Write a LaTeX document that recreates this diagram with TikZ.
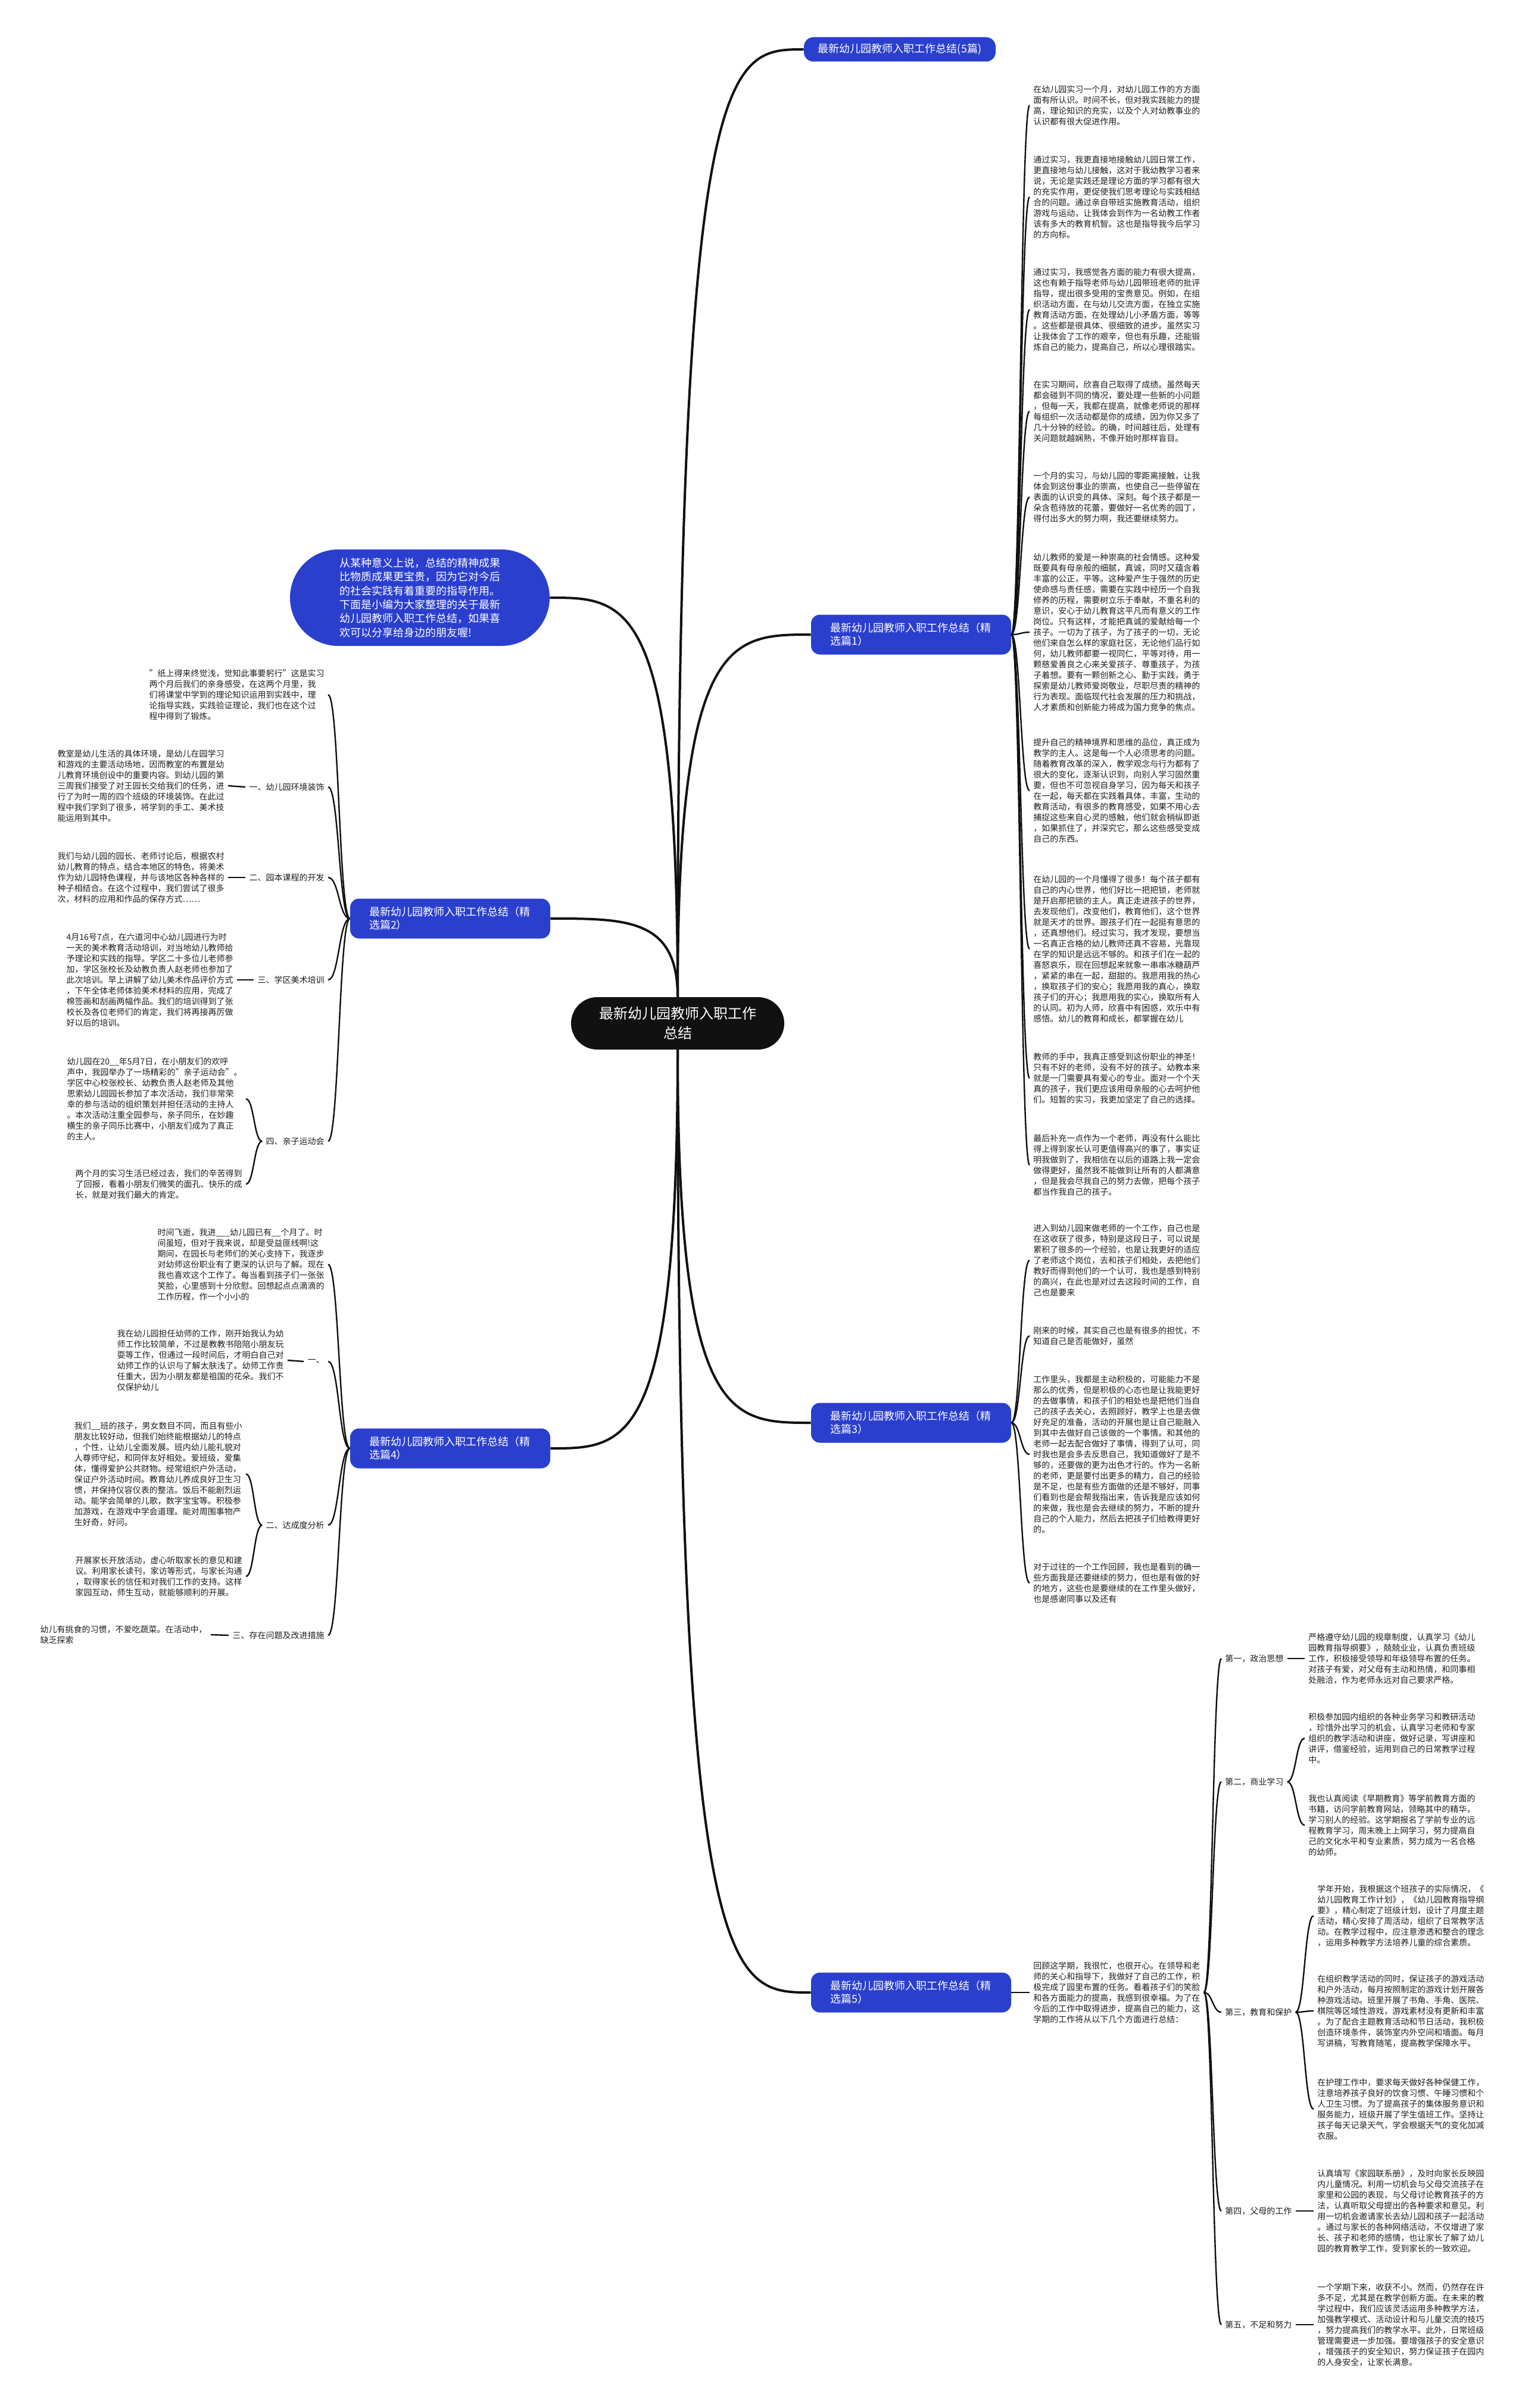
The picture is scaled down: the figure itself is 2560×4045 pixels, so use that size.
\documentclass[tikz,border=0pt]{standalone}
\usepackage{fontspec}
\setmainfont{Noto Sans CJK SC}
\usetikzlibrary{calc,shapes.misc}
\definecolor{nodeblue}{RGB}{43,63,207}
\definecolor{rootblack}{RGB}{17,17,17}
\definecolor{leaftext}{RGB}{30,30,30}
\definecolor{linecol}{RGB}{17,17,17}
\begin{document}
\begin{tikzpicture}[x=0.5pt,y=-0.5pt,
 leaf/.style={font=\fontsize{7}{9}\selectfont,text=leaftext,align=left,inner xsep=3pt,inner ysep=1pt},
 lbl/.style={font=\fontsize{7}{9}\selectfont,text=leaftext,inner xsep=3pt,inner ysep=1pt},
 topic/.style={fill=nodeblue,text=white,rounded corners=7.5pt,font=\fontsize{9}{11}\selectfont,align=left,text width=136pt,inner xsep=16pt,minimum height=33.5pt},
 topicone/.style={fill=nodeblue,text=white,rounded corners=8pt,font=\fontsize{9}{11}\selectfont,align=center,minimum width=161pt,minimum height=20.5pt,inner xsep=4pt,inner ysep=2pt},
 intronode/.style={rounded rectangle,fill=nodeblue,text=white,font=\fontsize{9}{11.7}\selectfont,align=left,minimum width=222pt,minimum height=81pt,inner xsep=2pt,inner ysep=3pt},
 rootnode/.style={rounded rectangle,fill=rootblack,text=white,font=\fontsize{12}{16.5}\selectfont,align=center,minimum width=183pt,minimum height=44pt,inner sep=2pt},
 rl/.style={draw=linecol,line width=2pt},
 br/.style={draw=linecol,line width=1.2pt},
 rz/.style={to path={let \p1=(\tikztostart), \p2=(\tikztotarget) in .. controls (\x1,\y2) and ({0.6*\x1+0.4*\x2},\y2) .. (\tikztotarget) \tikztonodes}},
 bz/.style={to path={let \p1=(\tikztostart), \p2=(\tikztotarget) in .. controls ({0.5*\x1+0.5*\x2},\y1) and ({0.5*\x1+0.5*\x2},\y2) .. (\tikztotarget) \tikztonodes}}
]
\useasboundingbox (0,0) rectangle (2560,4045);
\fill[white] (0,0) rectangle (2560,4045);

% ---------- root and topics ----------
\node[rootnode] (root) at (1138,1719) {最新幼儿园教师入职工作\\总结};
\node[topicone] (P0) at (1511,83) {最新幼儿园教师入职工作总结(5篇)};
\node[topic] (P1) at (1530,1066) {最新幼儿园教师入职工作总结（精\\选篇1）};
\node[topic] (P2) at (756,1543) {最新幼儿园教师入职工作总结（精\\选篇2）};
\node[topic] (P3) at (1530,2390) {最新幼儿园教师入职工作总结（精\\选篇3）};
\node[topic] (P4) at (756,2433) {最新幼儿园教师入职工作总结（精\\选篇4）};
\node[topic] (P5) at (1530,3347) {最新幼儿园教师入职工作总结（精\\选篇5）};
\node[intronode] (intro) at (705,1004) {从某种意义上说，总结的精神成果\\比物质成果更宝贵，因为它对今后\\的社会实践有着重要的指导作用。\\下面是小编为大家整理的关于最新\\幼儿园教师入职工作总结，如果喜\\欢可以分享给身边的朋友喔!};

\draw[rl] (root.north) to[rz] (P0.west);
\draw[rl] (root.north) to[rz] (P1.west);
\draw[rl] (root.north) to[rz] (intro.east);
\draw[rl] (root.north) to[rz] (P2.east);
\draw[rl] (root.south) to[rz] (P3.west);
\draw[rl] (root.south) to[rz] (P5.west);
\draw[rl] (root.south) to[rz] (P4.east);

% ---------- 精选篇1 ----------
\node[leaf,anchor=west] (a1) at (1729,177) {在幼儿园实习一个月，对幼儿园工作的方方面\\面有所认识。时间不长，但对我实践能力的提\\高，理论知识的充实，以及个人对幼教事业的\\认识都有很大促进作用。};
\node[leaf,anchor=west] (a2) at (1729,331) {通过实习，我更直接地接触幼儿园日常工作，\\更直接地与幼儿接触，这对于我幼教学习者来\\说，无论是实践还是理论方面的学习都有很大\\的充实作用，更促使我们思考理论与实践相结\\合的问题。通过亲自带班实施教育活动，组织\\游戏与运动，让我体会到作为一名幼教工作者\\该有多大的教育机智。这也是指导我今后学习\\的方向标。};
\node[leaf,anchor=west] (a3) at (1729,520) {通过实习，我感觉各方面的能力有很大提高，\\这也有赖于指导老师与幼儿园带班老师的批评\\指导，提出很多受用的宝贵意见。例如，在组\\织活动方面，在与幼儿交流方面，在独立实施\\教育活动方面，在处理幼儿小矛盾方面，等等\\。这些都是很具体、很细致的进步。虽然实习\\让我体会了工作的艰辛，但也有乐趣，还能锻\\炼自己的能力，提高自己，所以心理很踏实。};
\node[leaf,anchor=west] (a4) at (1729,691) {在实习期间，欣喜自己取得了成绩。虽然每天\\都会碰到不同的情况，要处理一些新的小问题\\，但每一天，我都在提高，就像老师说的那样\\每组织一次活动都是你的成绩，因为你又多了\\几十分钟的经验。的确，时间越往后，处理有\\关问题就越娴熟，不像开始时那样盲目。};
\node[leaf,anchor=west] (a5) at (1729,835) {一个月的实习，与幼儿园的零距离接触，让我\\体会到这份事业的崇高，也使自己一些停留在\\表面的认识变的具体、深刻。每个孩子都是一\\朵含苞待放的花蕾，要做好一名优秀的园丁，\\得付出多大的努力啊，我还要继续努力。};
\node[leaf,anchor=west] (a6) at (1729,1062) {幼儿教师的爱是一种崇高的社会情感。这种爱\\既要具有母亲般的细腻，真诚，同时又蕴含着\\丰富的公正，平等。这种爱产生于强然的历史\\使命感与责任感，需要在实践中经历一个自我\\修养的历程，需要树立乐于奉献，不重名利的\\意识，安心于幼儿教育这平凡而有意义的工作\\岗位。只有这样，才能把真诚的爱献给每一个\\孩子。一切为了孩子，为了孩子的一切，无论\\他们来自怎么样的家庭社区，无论他们品行如\\何，幼儿教师都要一视同仁，平等对待，用一\\颗慈爱善良之心来关爱孩子、尊重孩子，为孩\\子着想。要有一颗创新之心、勤于实践，勇于\\探索是幼儿教师爱岗敬业，尽职尽责的精神的\\行为表现。面临现代社会发展的压力和挑战，\\人才素质和创新能力将成为国力竞争的焦点。};
\node[leaf,anchor=west] (a7) at (1729,1328) {提升自己的精神境界和思维的品位，真正成为\\教学的主人。这是每一个人必须思考的问题。\\随着教育改革的深入，教学观念与行为都有了\\很大的变化，逐渐认识到，向别人学习固然重\\要，但也不可忽视自身学习，因为每天和孩子\\在一起，每天都在实践着具体，丰富，生动的\\教育活动，有很多的教育感受，如果不用心去\\捕捉这些来自心灵的感触，他们就会稍纵即逝\\，如果抓住了，并深究它，那么这些感受变成\\自己的东西。};
\node[leaf,anchor=west] (a8) at (1729,1594) {在幼儿园的一个月懂得了很多！每个孩子都有\\自己的内心世界，他们好比一把把锁，老师就\\是开启那把锁的主人。真正走进孩子的世界，\\去发现他们，改变他们，教育他们，这个世界\\就是天才的世界。跟孩子们在一起挺有意思的\\，还真想他们。经过实习，我才发现，要想当\\一名真正合格的幼儿教师还真不容易，光靠现\\在学的知识是远远不够的。和孩子们在一起的\\喜怒哀乐，现在回想起来就象一串串冰糖葫芦\\，紧紧的串在一起，甜甜的。我愿用我的热心\\，换取孩子们的安心；我愿用我的真心，换取\\孩子们的开心；我愿用我的实心，换取所有人\\的认同。初为人师，欣喜中有困惑，欢乐中有\\感悟。幼儿的教育和成长，都掌握在幼儿};
\node[leaf,anchor=west] (a9) at (1729,1811) {教师的手中，我真正感受到这份职业的神圣！\\只有不好的老师，没有不好的孩子。幼教本来\\就是一门需要具有爱心的专业。面对一个个天\\真的孩子，我们更应该用母亲般的心去呵护他\\们。短暂的实习，我更加坚定了自己的选择。};
\node[leaf,anchor=west] (a10) at (1729,1957) {最后补充一点作为一个老师，再没有什么能比\\得上得到家长认可更值得高兴的事了，事实证\\明我做到了，我相信在以后的道路上我一定会\\做得更好，虽然我不能做到让所有的人都满意\\，但是我会尽我自己的努力去做，把每个孩子\\都当作我自己的孩子。};
\foreach \k in {a1,a2,a3,a4,a5,a6,a7,a8,a9,a10} \draw[br] (P1.east) to[bz] (\k.west);

% ---------- 精选篇3 ----------
\node[leaf,anchor=west] (c1) at (1729,2117) {进入到幼儿园来做老师的一个工作，自己也是\\在这收获了很多，特别是这段日子，可以说是\\累积了很多的一个经验，也是让我更好的适应\\了老师这个岗位，去和孩子们相处，去把他们\\教好而得到他们的一个认可，我也是感到特别\\的高兴，在此也是对过去这段时间的工作，自\\己也是要来};
\node[leaf,anchor=west] (c2) at (1729,2244) {刚来的时候，其实自己也是有很多的担忧，不\\知道自己是否能做好，虽然};
\node[leaf,anchor=west] (c3) at (1729,2443) {工作里头，我都是主动积极的，可能能力不是\\那么的优秀，但是积极的心态也是让我能更好\\的去做事情，和孩子们的相处也是把他们当自\\己的孩子去关心，去照顾好，教学上也是去做\\好充足的准备，活动的开展也是让自己能融入\\到其中去做好自己该做的一个事情。和其他的\\老师一起去配合做好了事情，得到了认可，同\\时我也是会多去反思自己，我知道做好了是不\\够的，还要做的更为出色才行的。作为一名新\\的老师，更是要付出更多的精力，自己的经验\\是不足，也是有些方面做的还是不够好，同事\\们看到也是会帮我指出来，告诉我是应该如何\\的来做，我也是会去继续的努力，不断的提升\\自己的个人能力，然后去把孩子们给教得更好\\的。};
\node[leaf,anchor=west] (c4) at (1729,2659) {对于过往的一个工作回顾，我也是看到的确一\\些方面我是还要继续的努力，但也是有做的好\\的地方，这些也是要继续的在工作里头做好，\\也是感谢同事以及还有};
\foreach \k in {c1,c2,c3,c4} \draw[br] (P3.east) to[bz] (\k.west);

% ---------- 精选篇5 ----------
\node[leaf,anchor=west] (s0) at (1729,3347) {回顾这学期，我很忙，也很开心。在领导和老\\师的关心和指导下，我做好了自己的工作，积\\极完成了园里布置的任务。看着孩子们的笑脸\\和各方面能力的提高，我感到很幸福。为了在\\今后的工作中取得进步，提高自己的能力，这\\学期的工作将从以下几个方面进行总结：};
\draw[br] (P5.east) -- (s0.west);
\node[lbl,anchor=west] (sl1) at (2051,2786) {第一，政治思想};
\node[lbl,anchor=west] (sl2) at (2051,2993) {第二，商业学习};
\node[lbl,anchor=west] (sl3) at (2051,3380) {第三，教育和保护};
\node[lbl,anchor=west] (sl4) at (2051,3714) {第四，父母的工作};
\node[lbl,anchor=west] (sl5) at (2051,3905) {第五，不足和努力};
\foreach \k in {sl1,sl2,sl3,sl4,sl5} \draw[br] (s0.east) to[bz] (\k.west);
\node[leaf,anchor=west] (s1) at (2191,2786) {严格遵守幼儿园的规章制度，认真学习《幼儿\\园教育指导纲要》，兢兢业业，认真负责班级\\工作，积极接受领导和年级领导布置的任务。\\对孩子有爱，对父母有主动和热情，和同事相\\处融洽，作为老师永远对自己要求严格。};
\node[leaf,anchor=west] (s2a) at (2191,2920) {积极参加园内组织的各种业务学习和教研活动\\，珍惜外出学习的机会，认真学习老师和专家\\组织的教学活动和讲座，做好记录，写讲座和\\讲评，借鉴经验，运用到自己的日常教学过程\\中。};
\node[leaf,anchor=west] (s2b) at (2191,3066) {我也认真阅读《早期教育》等学前教育方面的\\书籍，访问学前教育网站，领略其中的精华，\\学习别人的经验。这学期报名了学前专业的远\\程教育学习，周末晚上上网学习，努力提高自\\己的文化水平和专业素质，努力成为一名合格\\的幼师。};
\node[leaf,anchor=west] (s3a) at (2206,3218) {学年开始，我根据这个班孩子的实际情况，《\\幼儿园教育工作计划》，《幼儿园教育指导纲\\要》，精心制定了班级计划，设计了月度主题\\活动，精心安排了周活动，组织了日常教学活\\动。在教学过程中，应注意渗透和整合的理念\\，运用多种教学方法培养儿童的综合素质。};
\node[leaf,anchor=west] (s3b) at (2206,3378) {在组织教学活动的同时，保证孩子的游戏活动\\和户外活动，每月按照制定的游戏计划开展各\\种游戏活动。班里开展了书角、手角、医院、\\棋院等区域性游戏，游戏素材没有更新和丰富\\。为了配合主题教育活动和节日活动，我积极\\创造环境条件，装饰室内外空间和墙面。每月\\写讲稿，写教育随笔，提高教学保障水平。};
\node[leaf,anchor=west] (s3c) at (2206,3543) {在护理工作中，要求每天做好各种保健工作，\\注意培养孩子良好的饮食习惯、午睡习惯和个\\人卫生习惯。为了提高孩子的集体服务意识和\\服务能力，班级开展了学生值班工作。坚持让\\孩子每天记录天气，学会根据天气的变化加减\\衣服。};
\node[leaf,anchor=west] (s4) at (2206,3714) {认真填写《家园联系册》，及时向家长反映园\\内儿童情况。利用一切机会与父母交流孩子在\\家里和公园的表现，与父母讨论教育孩子的方\\法，认真听取父母提出的各种要求和意见。利\\用一切机会邀请家长去幼儿园和孩子一起活动\\。通过与家长的各种网络活动，不仅增进了家\\长、孩子和老师的感情，也让家长了解了幼儿\\园的教育教学工作，受到家长的一致欢迎。};
\node[leaf,anchor=west] (s5) at (2206,3905) {一个学期下来，收获不小。然而，仍然存在许\\多不足，尤其是在教学创新方面。在未来的教\\学过程中，我们应该灵活运用多种教学方法，\\加强教学模式、活动设计和与儿童交流的技巧\\，努力提高我们的教学水平。此外，日常班级\\管理需要进一步加强。要增强孩子的安全意识\\，增强孩子的安全知识，努力保证孩子在园内\\的人身安全，让家长满意。};
\draw[br] (sl1.east) -- (s1.west);
\draw[br] (sl2.east) to[bz] (s2a.west);
\draw[br] (sl2.east) to[bz] (s2b.west);
\draw[br] (sl3.east) to[bz] (s3a.west);
\draw[br] (sl3.east) to[bz] (s3b.west);
\draw[br] (sl3.east) to[bz] (s3c.west);
\draw[br] (sl4.east) -- (s4.west);
\draw[br] (sl5.east) -- (s5.west);

% ---------- 精选篇2 ----------
\node[leaf,anchor=east] (q0) at (551,1167) {"纸上得来终觉浅，觉知此事要躬行"这是实习\\两个月后我们的亲身感受，在这两个月里，我\\们将课堂中学到的理论知识运用到实践中，理\\论指导实践，实践验证理论，我们也在这个过\\程中得到了锻炼。};
\node[lbl,anchor=east] (ql1) at (551,1322) {一、幼儿园环境装饰};
\node[leaf,anchor=east] (q1) at (383,1320) {教室是幼儿生活的具体环境，是幼儿在园学习\\和游戏的主要活动场地，因而教室的布置是幼\\儿教育环境创设中的重要内容。到幼儿园的第\\三周我们接受了对王园长交给我们的任务，进\\行了为时一周的四个班级的环境装饰。在此过\\程中我们学到了很多，将学到的手工、美术技\\能运用到其中。};
\node[lbl,anchor=east] (ql2) at (551,1474) {二、园本课程的开发};
\node[leaf,anchor=east] (q2) at (383,1474) {我们与幼儿园的园长、老师讨论后，根据农村\\幼儿教育的特点，结合本地区的特色，将美术\\作为幼儿园特色课程，并与该地区各种各样的\\种子相结合。在这个过程中，我们尝试了很多\\次，材料的应用和作品的保存方式……};
\node[lbl,anchor=east] (ql3) at (551,1646) {三、学区美术培训};
\node[leaf,anchor=east] (q3) at (398,1646) {4月16号7点，在六道河中心幼儿园进行为时\\一天的美术教育活动培训，对当地幼儿教师给\\予理论和实践的指导。学区二十多位儿老师参\\加，学区张校长及幼教负责人赵老师也参加了\\此次培训。早上讲解了幼儿美术作品评价方式\\，下午全体老师体验美术材料的应用，完成了\\棉签画和刮画两幅作品。我们的培训得到了张\\校长及各位老师们的肯定，我们将再接再厉做\\好以后的培训。};
\node[lbl,anchor=east] (ql4) at (551,1917) {四、亲子运动会};
\node[leaf,anchor=east] (q4a) at (413,1846) {幼儿园在20\_\_年5月7日，在小朋友们的欢呼\\声中，我园举办了一场精彩的"亲子运动会"。\\学区中心校张校长、幼教负责人赵老师及其他\\思索幼儿园园长参加了本次活动，我们非常荣\\幸的参与活动的组织策划并担任活动的主持人\\。本次活动注重全园参与，亲子同乐，在妙趣\\横生的亲子同乐比赛中，小朋友们成为了真正\\的主人。};
\node[leaf,anchor=east] (q4b) at (413,1989) {两个月的实习生活已经过去，我们的辛苦得到\\了回报，看着小朋友们微笑的面孔、快乐的成\\长，就是对我们最大的肯定。};
\foreach \k in {q0,ql1,ql2,ql3,ql4} \draw[br] (P2.west) to[bz] (\k.east);
\draw[br] (ql1.west) -- (q1.east);
\draw[br] (ql2.west) -- (q2.east);
\draw[br] (ql3.west) -- (q3.east);
\draw[br] (ql4.west) to[bz] (q4a.east);
\draw[br] (ql4.west) to[bz] (q4b.east);

% ---------- 精选篇4 ----------
\node[leaf,anchor=east] (r0) at (551,2124) {时间飞逝，我进\_\_\_幼儿园已有\_\_个月了。时\\间虽短，但对于我来说，却是受益匪线啊!这\\期间，在园长与老师们的关心支持下，我逐步\\对幼师这份职业有了更深的认识与了解。现在\\我也喜欢这个工作了。每当看到孩子们一张张\\笑脸，心里感到十分欣慰。回想起点点滴滴的\\工作历程，作一个小小的};
\node[lbl,anchor=east] (rl1) at (551,2287) {一、};
\node[leaf,anchor=east] (r1) at (483,2285) {我在幼儿园担任幼师的工作，刚开始我认为幼\\师工作比较简单，不过是教教书陪陪小朋友玩\\耍等工作，但通过一段时间后，才明白自己对\\幼师工作的认识与了解太肤浅了。幼师工作责\\任重大，因为小朋友都是祖国的花朵。我们不\\仅保护幼儿};
\node[lbl,anchor=east] (rl2) at (551,2562) {二、达成度分析};
\node[leaf,anchor=east] (r2a) at (413,2476) {我们\_\_班的孩子，男女数目不同，而且有些小\\朋友比较好动，但我们始终能根据幼儿的特点\\，个性，让幼儿全面发展。班内幼儿能礼貌对\\人尊师守纪，和同伴友好相处。爱班级，爱集\\体，懂得爱护公共财物。经常组织户外活动，\\保证户外活动时间。教育幼儿养成良好卫生习\\惯，并保持仪容仪表的整洁。饭后不能剧烈运\\动。能学会简单的儿歌，数字宝宝等。积极参\\加游戏，在游戏中学会道理。能对周围事物产\\生好奇，好问。};
\node[leaf,anchor=east] (r2b) at (413,2648) {开展家长开放活动，虚心听取家长的意见和建\\议。利用家长读刊，家访等形式，与家长沟通\\，取得家长的信任和对我们工作的支持。这样\\家园互动，师生互动，就能够顺利的开展。};
\node[lbl,anchor=east] (rl3) at (551,2747) {三、存在问题及改进措施};
\node[leaf,anchor=east] (r3) at (354,2746) {幼儿有挑食的习惯，不爱吃蔬菜。在活动中，\\缺乏探索};
\foreach \k in {r0,rl1,rl2,rl3} \draw[br] (P4.west) to[bz] (\k.east);
\draw[br] (rl1.west) -- (r1.east);
\draw[br] (rl2.west) to[bz] (r2a.east);
\draw[br] (rl2.west) to[bz] (r2b.east);
\draw[br] (rl3.west) -- (r3.east);
\end{tikzpicture}
\end{document}
